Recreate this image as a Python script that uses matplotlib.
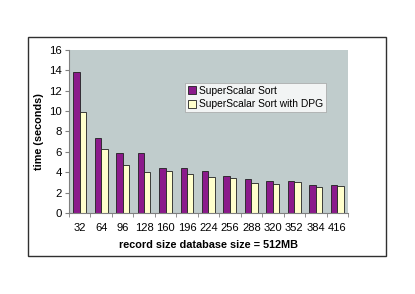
import matplotlib
matplotlib.use("Agg")
import matplotlib.pyplot as plt
import numpy as np
from matplotlib.patches import Rectangle

categories = ["32", "64", "96", "128", "160", "196", "224", "256", "288", "320", "352", "384", "416"]
superscalar = [13.8, 7.35, 5.85, 5.9, 4.44, 4.44, 4.08, 3.66, 3.37, 3.14, 3.14, 2.75, 2.78]
superscalar_dpg = [9.9, 6.27, 4.67, 4.05, 4.08, 3.86, 3.5, 3.43, 2.97, 2.84, 3.0, 2.6, 2.65]
series_names = ["SuperScalar Sort", "SuperScalar Sort with DPG"]

plt.rcParams['font.family'] = ['Liberation Sans', 'DejaVu Sans']

fig = plt.figure(figsize=(4.15, 2.94), dpi=100)
fig.patch.set_facecolor("white")
fig.patches.append(Rectangle((0.0675, 0.129), 0.8625, 0.745, transform=fig.transFigure,
                             fill=False, edgecolor="#303030", linewidth=1.0, zorder=0))

ax = fig.add_axes([0.166, 0.2755, 0.6726, 0.5545])
ax.set_facecolor("#C0CCCC")

x = np.arange(len(categories))
w = 0.3
ax.bar(x - w/2, superscalar, w, color="#8B1A8B", edgecolor="#202020", linewidth=0.6, label=series_names[0])
ax.bar(x + w/2, superscalar_dpg, w, color="#FFFFCC", edgecolor="#202020", linewidth=0.6, label=series_names[1])

ax.set_xlim(-0.5, len(categories) - 0.5)
ax.set_ylim(0, 16)
ax.set_yticks(range(0, 17, 2))
ax.set_xticks(x)
ax.set_xticklabels(categories)
ax.set_xticks(np.arange(-0.5, len(categories)), minor=True)
ax.tick_params(axis='x', which='major', length=0, pad=7, labelsize=8.0)
ax.tick_params(axis='x', which='minor', length=3, direction='out', color="#808080")
ax.tick_params(axis='y', length=3, direction='out', labelsize=8.2, color="#808080", pad=2)

for s in ["top", "right"]:
    ax.spines[s].set_visible(False)
ax.spines["left"].set_color("#808080")
ax.spines["bottom"].set_color("#808080")

ax.set_xlabel("record size database size = 512MB", fontsize=7.8, fontweight="bold", labelpad=5)
ax.set_ylabel("time (seconds)", fontsize=7.8, fontweight="bold", labelpad=4)

leg = ax.legend(loc="upper left", bbox_to_anchor=(0.415, 0.80), fontsize=7.4, frameon=True,
                fancybox=False, edgecolor="#A0A0A0", handlelength=0.8, handleheight=0.8,
                handletextpad=0.3, borderpad=0.3, labelspacing=0.35, borderaxespad=0)
leg.get_frame().set_linewidth(0.6)

fig.savefig("out.png", dpi=100)
